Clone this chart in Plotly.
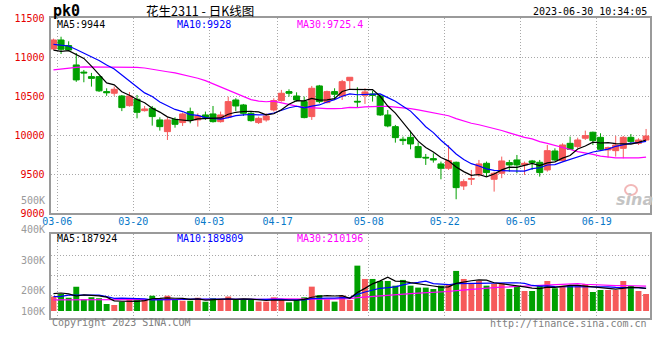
import numpy as np
import pandas as pd
import plotly.graph_objects as go

# ---------------- data ----------------
dates = (["03-%02d" % d for d in [6, 7, 8, 9, 10, 13, 14, 15, 16, 17, 20, 21, 22, 23, 24, 27, 28, 29, 30, 31]]
         + ["04-%02d" % d for d in [3, 4, 6, 7, 10, 11, 12, 13, 14, 17, 18, 19, 20, 21, 24, 25, 26, 27, 28]]
         + ["05-%02d" % d for d in [4, 5, 8, 9, 10, 11, 12, 15, 16, 17, 18, 19, 22, 23, 24, 25, 26, 29, 30, 31]]
         + ["06-%02d" % d for d in [1, 2, 5, 6, 7, 8, 9, 12, 13, 14, 15, 16, 19, 20, 21, 26, 27, 28, 29, 30]])

opens = [11107, 11222, 11150, 10902, 10810, 10752, 10752, 10560, 10539, 10504,
         10380, 10462, 10316, 10346, 10197, 10047, 10205, 10163, 10304, 10197,
         10261, 10274, 10175, 10231, 10453, 10389, 10282, 10163, 10197, 10325,
         10445, 10560, 10504, 10432, 10240, 10633, 10419, 10560, 10504, 10701,
         10436, 10513, 10530, 10504, 10261, 10111, 9949, 9974, 9855, 9718,
         9701, 9633, 9577, 9654, 9350, 9436, 9492, 9641, 9436, 9513,
         9650, 9684, 9620, 9671, 9654, 9556, 9799, 9675, 9897, 9855,
         9962, 10039, 9974, 9812, 9803, 9833, 9974, 9897, 9940]
highs = [11240, 11264, 11205, 11055, 10838, 10800, 10758, 10603, 10625, 10517,
         10555, 10517, 10376, 10376, 10231, 10231, 10231, 10291, 10355, 10282,
         10304, 10376, 10304, 10496, 10475, 10402, 10304, 10240, 10282, 10475,
         10582, 10590, 10551, 10496, 10633, 10646, 10573, 10603, 10710, 10744,
         10616, 10603, 10573, 10517, 10325, 10133, 9983, 10060, 9910, 9761,
         9769, 9663, 9876, 9663, 9436, 9556, 9684, 9663, 9534, 9727,
         9684, 9748, 9663, 9684, 9684, 9876, 9833, 9897, 9983, 9970,
         10060, 10047, 10026, 9855, 9991, 9991, 10017, 9962, 10081]
lows = [11095, 11042, 11078, 10685, 10680, 10624, 10556, 10506, 10506, 10310,
        10368, 10218, 10304, 10124, 10060, 9940, 10098, 10120, 10154, 10111,
        10197, 10163, 10163, 10218, 10312, 10248, 10175, 10145, 10175, 10304,
        10432, 10496, 10432, 10218, 10197, 10410, 10410, 10462, 10453, 10581,
        10359, 10402, 10432, 10248, 10103, 9906, 9876, 9820, 9714, 9620,
        9650, 9436, 9556, 9180, 9299, 9363, 9470, 9470, 9278, 9450,
        9534, 9513, 9492, 9556, 9470, 9534, 9671, 9663, 9812, 9833,
        9940, 9876, 9812, 9714, 9727, 9705, 9897, 9876, 9927]
closes = [11222, 11103, 11094, 10710, 10800, 10730, 10570, 10546, 10590, 10355,
          10504, 10295, 10338, 10240, 10111, 10197, 10141, 10274, 10197, 10248,
          10231, 10175, 10261, 10432, 10376, 10282, 10188, 10218, 10248, 10445,
          10539, 10539, 10453, 10227, 10603, 10432, 10560, 10526, 10688, 10744,
          10428, 10556, 10513, 10261, 10120, 9970, 9932, 9889, 9714, 9710,
          9684, 9577, 9675, 9329, 9406, 9445, 9633, 9522, 9513, 9671,
          9620, 9620, 9641, 9650, 9522, 9803, 9684, 9876, 9820, 9940,
          9996, 9932, 9820, 9842, 9876, 9974, 9919, 9940, 9991]
volumes = [120000, 142000, 111000, 203000, 97000, 114000, 106000, 58000, 50000, 78000,
           106000, 106000, 92000, 128000, 92000, 128000, 92000, 86000, 86000, 111000,
           78000, 106000, 92000, 120000, 92000, 97000, 92000, 78000, 78000, 114000,
           92000, 72000, 92000, 114000, 203000, 133000, 97000, 78000, 128000, 92000,
           378000, 267000, 267000, 250000, 250000, 211000, 259000, 211000, 195000, 195000,
           183000, 211000, 225000, 334000, 267000, 225000, 250000, 211000, 225000, 231000,
           183000, 203000, 167000, 167000, 211000, 250000, 189000, 211000, 209000, 209000,
           225000, 158000, 175000, 175000, 175000, 250000, 209000, 167000, 142000]

# moving-average values at the start of the window (history not shown)
ma5_head = [11093, 11075, 11085, 11030]
ma10_head = [11165, 11155, 11145, 11100, 11055, 11010, 10960, 10900, 10850]
ma30_head = [10838, 10851, 10863, 10872, 10876, 10876, 10876, 10876, 10876, 10876,
             10874, 10870, 10863, 10850, 10835, 10815, 10800, 10780, 10752, 10731,
             10701, 10660, 10612, 10580, 10540, 10498, 10458, 10438, 10430]
vma5_head = [145000, 150000, 142000, 125000]
vma10_head = [120000, 122000, 133000, 133000, 133000, 133000, 133000, 120000, 106000]
vma30_head = [92000, 92000, 93000, 93000, 93000, 93000, 93000, 93000, 93000, 93000,
              93000, 93000, 93000, 93000, 93000, 93000, 93000, 93000, 93000, 92000,
              92000, 92000, 92000, 92000, 93000, 94000, 95000, 96000, 98000]

date_labels = ["03-06", "03-20", "04-03", "04-17", "05-08", "05-22", "06-05", "06-19"]
price_ticks = [9000, 9500, 10000, 10500, 11000, 11500]
price_ma_texts = ["MA5:9944", "MA10:9928", "MA30:9725.4"]
vol_ma_texts = ["MA5:187924", "MA10:189809", "MA30:210196"]
vol_labels = ["500K", "400K", "300K", "200K", "100K"]
vol_grid = [129000, 296000, 462000]

# ---------------- styling ----------------
W, H = 660, 360
RED, GREEN = "#f65a5a", "#00a000"
MONO = "DejaVu Sans Mono"
GRID = "#a8a8a8"
BOX = "#9a9a9a"


def fx(px):
    return px / W


def fy(py):
    return 1 - py / H


xi = list(range(len(dates)))


def ma(values, n, head):
    s = pd.Series(values, dtype=float).rolling(n).mean().to_numpy()
    s[:len(head)] = head
    return s


ma5 = ma(closes, 5, ma5_head)
ma10 = ma(closes, 10, ma10_head)
ma30 = ma(closes, 30, ma30_head)
vma5 = ma(volumes, 5, vma5_head)
vma10 = ma(volumes, 10, vma10_head)
vma30 = ma(volumes, 30, vma30_head)

bar_colors = [RED if c > o else GREEN for o, c in zip(opens, closes)]

fig = go.Figure()
fig.add_trace(go.Candlestick(
    x=xi, open=opens, high=highs, low=lows, close=closes,
    increasing=dict(fillcolor=RED, line=dict(color=RED, width=1)),
    decreasing=dict(fillcolor=GREEN, line=dict(color=GREEN, width=1)),
    whiskerwidth=0, hoverinfo="skip", xaxis="x", yaxis="y"))
for series, col in [(ma30, "#ff00ff"), (ma10, "#0000ff"), (ma5, "#000000")]:
    fig.add_trace(go.Scatter(x=xi, y=series, mode="lines", line=dict(color=col, width=1.2),
                             hoverinfo="skip", xaxis="x", yaxis="y"))

fig.add_trace(go.Bar(x=xi, y=volumes, marker=dict(color=bar_colors, line=dict(width=0)),
                     width=0.78, hoverinfo="skip", xaxis="x2", yaxis="y2"))
for series, col in [(vma30, "#ff00ff"), (vma10, "#0000ff"), (vma5, "#000000")]:
    fig.add_trace(go.Scatter(x=xi, y=series, mode="lines", line=dict(color=col, width=1.2),
                             hoverinfo="skip", xaxis="x2", yaxis="y2"))

tickvals = [dates.index(d) + 0.5 for d in date_labels]
xrange = [-0.39, len(dates) - 0.55]

common_axis = dict(showline=True, linecolor=BOX, linewidth=2, mirror=True, zeroline=False,
                   showgrid=True, gridcolor=GRID, gridwidth=1, griddash="1px,2px", ticks="",
                   fixedrange=True, automargin=False)

fig.update_layout(
    width=W, height=H, autosize=False,
    margin=dict(l=0, r=0, t=0, b=0, pad=0),
    paper_bgcolor="white", plot_bgcolor="white",
    showlegend=False, boxgap=0.1, boxgroupgap=0.12,
    xaxis=dict(domain=[fx(50.5), fx(649.5)], range=xrange, anchor="y",
               tickvals=tickvals, ticktext=date_labels, ticklabelstandoff=-2,
               tickfont=dict(family=MONO, size=10, color="#0878c8"),
               rangeslider=dict(visible=False), **common_axis),
    yaxis=dict(domain=[fy(213.3), fy(18.3)], range=[9000, 11500], anchor="x",
               tickvals=price_ticks, tickformat="d", ticklabelstandoff=2,
               tickfont=dict(family=MONO, size=10, color="#e60000"),
               **common_axis),
    xaxis2=dict(domain=[fx(50.5), fx(649.5)], range=xrange, anchor="y2",
                tickvals=tickvals, showticklabels=False, **common_axis),
    yaxis2=dict(domain=[fy(318), fy(234)], range=[-58300, 641700], anchor="x2",
                tickvals=vol_grid, showticklabels=False, **common_axis),
)

ann = []


def text(s, x, y, color="#000000", size=10, anchor="left", family=MONO, **font_extra):
    ann.append(dict(text=s, x=fx(x), y=fy(y), xref="paper", yref="paper", showarrow=False,
                    xanchor=anchor, yanchor="middle",
                    font=dict(family=family, size=size, color=color, **font_extra)))


text("pk0", 51, 10.5, size=15, weight="bold")
text("花生2311 - 日K线图", 200, 10.5, size=12.5, anchor="center", family="Noto Sans CJK SC")
text("2023-06-30 10:34:05", 649, 11.7, anchor="right")
for s, x, c in zip(price_ma_texts, [54.5, 175, 295], ["#000000", "#0000ff", "#ff00ff"]):
    text(s, x, 24.5, color=c)
for s, x, c in zip(vol_ma_texts, [54.5, 175, 295], ["#000000", "#0000ff", "#ff00ff"]):
    text(s, x, 238.5, color=c)
for s, y in zip(vol_labels, [200.7, 229.3, 260.7, 290.7, 311]):
    text(s, 46.5, y, color="#9a9a9a", anchor="right")
text("Copyright 2023 SINA.COM", 50, 322.7, color="#808080")
text("http://finance.sina.com.cn", 649, 323.3, color="#808080", anchor="right")
text("sina", 634, 199, color="#c4c4c4", size=16, anchor="center", family="DejaVu Sans",
     weight="bold", style="italic")
fig.update_layout(annotations=ann)
fig.add_shape(type="circle", xref="paper", yref="paper", x0=fx(625), x1=fx(637), y0=fy(195), y1=fy(185),
              line=dict(color="#f2b8b8", width=2))

fig.write_html("out.html", config={"displayModeBar": False, "staticPlot": True},
               post_script="document.body.style.margin='0';document.body.style.overflow='hidden';")
